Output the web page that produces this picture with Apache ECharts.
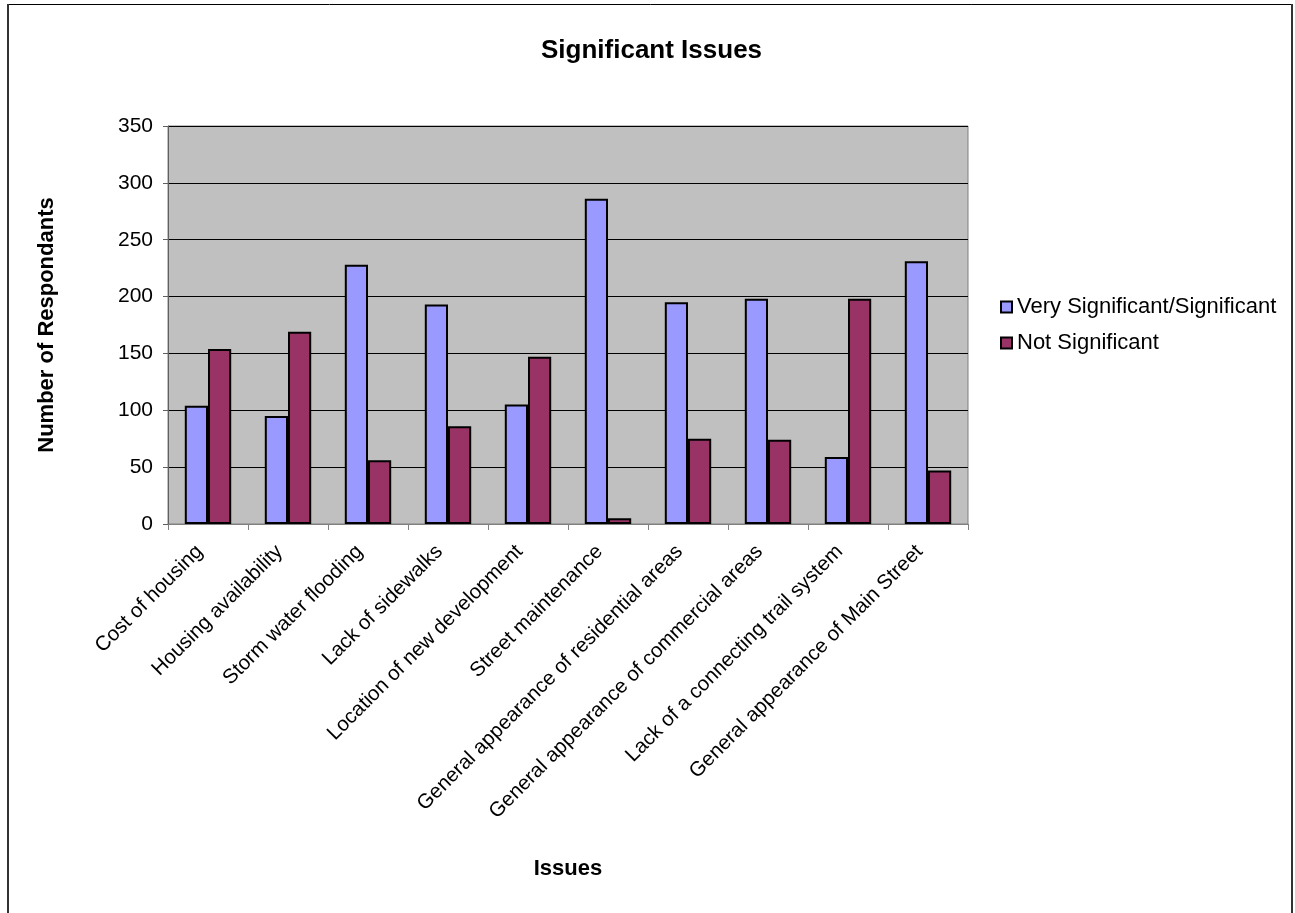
<!DOCTYPE html>
<html>
<head>
<meta charset="utf-8">
<script src="https://cdn.jsdelivr.net/npm/echarts@6/dist/echarts.min.js"></script>
<style>
  html, body { margin: 0; padding: 0; background: #fff; }
  #chart { width: 1295px; height: 913px; }
</style>
</head>
<body>
<div id="chart"></div>
<script>
const categories = [
  'Cost of housing',
  'Housing availability',
  'Storm water flooding',
  'Lack of sidewalks',
  'Location of new development',
  'Street maintenance',
  'General appearance of residential areas',
  'General appearance of commercial areas',
  'Lack of a connecting trail system',
  'General appearance of Main Street'
];
const significant = [104, 95, 228, 193, 105, 286, 195, 198, 59, 231];
const notSignificant = [154, 169, 56, 86, 147, 5, 75, 74, 198, 47];
const yTicks = { min: 0, max: 350, interval: 50 };

const font = 'Liberation Sans, Arial, sans-serif';
const myChart = echarts.init(document.getElementById('chart'));

// 图表配置
const option = {
  animation: false,
  backgroundColor: '#fff',
  textStyle: { fontFamily: font, color: '#000' },
  title: {
    text: 'Significant Issues',
    left: 536,
    top: 33,
    textStyle: { fontFamily: font, fontSize: 26, fontWeight: 'bold', color: '#000' }
  },
  graphic: [
    {
      type: 'rect',
      shape: { x: 8.5, y: 4.5, width: 1283.5, height: 930 },
      style: { fill: 'none', stroke: '#000', lineWidth: 1 },
      silent: true
    },
    {
      type: 'line',
      shape: { x1: 8, y1: 4, x2: 8, y2: 913 },
      style: { stroke: '#333', lineWidth: 2 },
      silent: true
    },
    {
      type: 'line',
      shape: { x1: 1292, y1: 4, x2: 1292, y2: 913 },
      style: { stroke: '#333', lineWidth: 2 },
      silent: true
    }
  ],
  legend: {
    orient: 'vertical',
    left: 995,
    top: 291,
    itemGap: 14,
    itemWidth: 11,
    itemHeight: 11,
    icon: 'rect',
    textStyle: { fontFamily: font, fontSize: 22, color: '#000' },
    data: ['Very Significant/Significant', 'Not Significant']
  },
  grid: {
    left: 168,
    top: 126,
    width: 800,
    height: 398,
    show: true,
    backgroundColor: '#c0c0c0',
    borderColor: '#808080',
    borderWidth: 1
  },
  xAxis: {
    type: 'category',
    data: categories,
    name: 'Issues',
    nameLocation: 'middle',
    nameGap: 334,
    nameTextStyle: { fontFamily: font, fontSize: 22, fontWeight: 'bold', color: '#000' },
    axisLine: { lineStyle: { color: '#808080' } },
    axisTick: { show: true, length: 6, lineStyle: { color: '#808080' } },
    axisLabel: {
      rotate: 45,
      interval: 0,
      margin: 16,
      padding: [0, 12, 0, 0],
      fontFamily: font,
      fontSize: 20.5,
      color: '#000'
    },
    splitLine: { show: false }
  },
  yAxis: {
    type: 'value',
    min: yTicks.min,
    max: yTicks.max,
    interval: yTicks.interval,
    name: 'Number of Respondants',
    nameLocation: 'middle',
    nameGap: 110,
    nameTextStyle: { fontFamily: font, fontSize: 22, fontWeight: 'bold', color: '#000' },
    axisLine: { show: true, lineStyle: { color: '#606060' } },
    axisTick: { show: true, length: 5, lineStyle: { color: '#606060' } },
    axisLabel: { fontFamily: font, fontSize: 21, color: '#000', margin: 15 },
    splitLine: { show: true, lineStyle: { color: '#000', width: 1 } }
  },
  series: [
    {
      name: 'Very Significant/Significant',
      type: 'bar',
      data: significant,
      barGap: '0%',
      barCategoryGap: '42%',
      itemStyle: { color: '#9999ff', borderColor: '#000', borderWidth: 2 }
    },
    {
      name: 'Not Significant',
      type: 'bar',
      data: notSignificant,
      itemStyle: { color: '#993366', borderColor: '#000', borderWidth: 2 }
    }
  ]
};

myChart.setOption(option);
</script>
</body>
</html>
